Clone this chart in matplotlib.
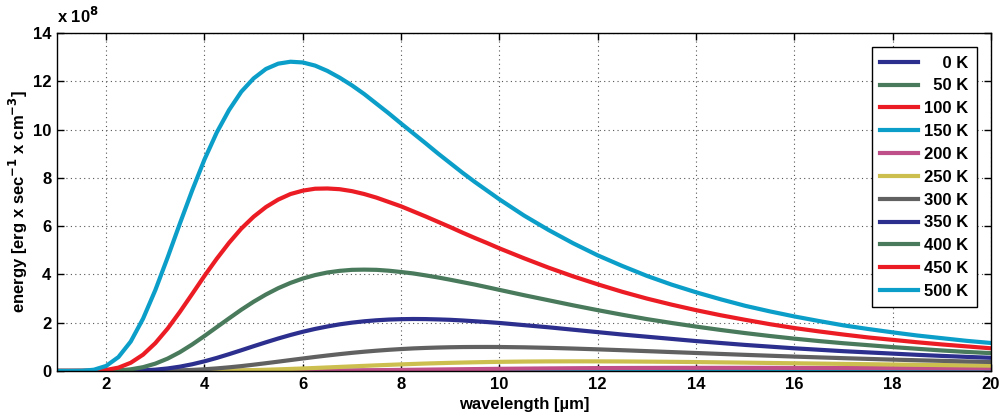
import matplotlib
matplotlib.use("Agg")
import matplotlib.pyplot as plt

# wavelength in um (finer steps up to 10 um), energy in units of 1e8 erg/s/cm^3
wavelength = [1, 1.25, 1.5, 1.75, 2, 2.25, 2.5, 2.75, 3, 3.25, 3.5, 3.75, 4, 4.25, 4.5,
              4.75, 5, 5.25, 5.5, 5.75, 6, 6.25, 6.5, 6.75, 7, 7.25, 7.5, 7.75, 8, 8.25,
              8.5, 8.75, 9, 9.25, 9.5, 9.75, 10,
              10.5, 11, 11.5, 12, 12.5, 13, 13.5, 14, 14.5, 15, 15.5, 16, 16.5, 17, 17.5,
              18, 18.5, 19, 19.5, 20]

# labels padded so they come out right-aligned like the original legend
labels = ['    0 K', '  50 K', '100 K', '150 K', '200 K', '250 K', '300 K',
          '350 K', '400 K', '450 K', '500 K']

e_0K = [0.0] * 57
e_50K = [0.0] * 57
e_100K = [0] * 44 + [0.0008, 0.0009, 0.0011, 0.0013, 0.0014, 0.0016, 0.0018, 0.0019,
                     0.0021, 0.0023, 0.0025, 0.0026, 0.0028]
e_150K = [0] * 21 + [0.0003, 0.0004, 0.0006, 0.0008, 0.0011, 0.0014, 0.0018, 0.0023,
                     0.0028, 0.0034, 0.0040, 0.0047, 0.0055, 0.0063, 0.0072, 0.0081,
                     0.0101, 0.0121, 0.0142, 0.0162, 0.0182, 0.0201, 0.0219, 0.0235,
                     0.0250, 0.0263, 0.0274, 0.0284, 0.0292, 0.0299, 0.0304, 0.0308,
                     0.0310, 0.0311, 0.0311, 0.031]
e_200K = [0] * 13 + [0.0004, 0.0007, 0.0013, 0.0022, 0.0033, 0.0049, 0.0070, 0.0095,
                     0.0125, 0.016, 0.020, 0.0244, 0.0292, 0.0343, 0.0397, 0.0453, 0.0510,
                     0.0568, 0.0625, 0.0683, 0.0739, 0.0793, 0.0846, 0.0897,
                     0.099, 0.107, 0.114, 0.120, 0.124, 0.127, 0.130, 0.131, 0.131, 0.131,
                     0.130, 0.128, 0.126, 0.124, 0.121, 0.118, 0.115, 0.112, 0.108, 0.105]
e_250K = [0] * 9 + [0.0007, 0.002, 0.0035, 0.007, 0.0113, 0.018, 0.027, 0.038, 0.0518,
                    0.068, 0.0854, 0.105, 0.1254, 0.147, 0.169, 0.191, 0.2126, 0.234,
                    0.254, 0.274, 0.292, 0.309, 0.324, 0.338, 0.350, 0.361, 0.371, 0.379,
                    0.391, 0.398, 0.400, 0.399, 0.395, 0.388, 0.380, 0.370, 0.358, 0.346,
                    0.333, 0.320, 0.307, 0.294, 0.282, 0.269, 0.257, 0.245, 0.233, 0.222]
e_300K = [0, 0, 0, 0, 0, 0, 0, 0.002, 0.006, 0.0128, 0.025, 0.0449, 0.072, 0.108, 0.152,
          0.203, 0.261, 0.323, 0.387, 0.453, 0.518, 0.582, 0.642, 0.699, 0.752, 0.799,
          0.841, 0.878, 0.909, 0.936, 0.956, 0.972, 0.984, 0.992, 0.995, 0.996, 0.994,
          0.981, 0.959, 0.930, 0.897, 0.861, 0.823, 0.784, 0.746, 0.707, 0.669, 0.633,
          0.597, 0.564, 0.532, 0.501, 0.472, 0.445, 0.420, 0.395, 0.373]
e_350K = [0, 0, 0, 0, 0, 0.0024, 0.009, 0.0245, 0.055, 0.1055, 0.180, 0.279, 0.401, 0.542,
          0.697, 0.860, 1.027, 1.189, 1.346, 1.492, 1.625, 1.743, 1.844, 1.933, 2.003,
          2.059, 2.101, 2.131, 2.147, 2.154, 2.150, 2.137, 2.12, 2.093, 2.06, 2.027, 1.99,
          1.90, 1.81, 1.71, 1.61, 1.51, 1.42, 1.33, 1.24, 1.16, 1.08, 1.01, 0.94, 0.88,
          0.82, 0.77, 0.72, 0.67, 0.625, 0.585, 0.547]
e_400K = [0, 0, 0, 0.0009, 0.006, 0.0236, 0.069, 0.158, 0.305, 0.513, 0.78, 1.099, 1.45,
          1.816, 2.18, 2.539, 2.87, 3.168, 3.43, 3.649, 3.83, 3.973, 4.08, 4.148, 4.19,
          4.199, 4.19, 4.154, 4.10, 4.040, 3.96, 3.875, 3.78, 3.680, 3.58, 3.471, 3.36,
          3.14, 2.93, 2.72, 2.52, 2.33, 2.15, 1.99, 1.84, 1.70, 1.57, 1.45, 1.34, 1.24,
          1.15, 1.07, 0.99, 0.92, 0.85, 0.79, 0.74]
e_450K = [0, 0, 0.001, 0.0085, 0.042, 0.139, 0.341, 0.676, 1.154, 1.755, 2.45, 3.19, 3.94,
          4.65, 5.31, 5.90, 6.39, 6.79, 7.10, 7.33, 7.47, 7.55, 7.56, 7.53, 7.45, 7.33,
          7.18, 7.00, 6.82, 6.61, 6.40, 6.18, 5.96, 5.73, 5.51, 5.30, 5.08,
          4.67, 4.28, 3.92, 3.59, 3.28, 3.00, 2.75, 2.52, 2.31, 2.12, 1.94, 1.78, 1.64,
          1.51, 1.39, 1.29, 1.19, 1.10, 1.02, 0.94]
e_500K = [0, 0.0004, 0.007, 0.0525, 0.21, 0.577, 1.22, 2.165, 3.35, 4.70, 6.11, 7.48, 8.76,
          9.88, 10.81, 11.57, 12.12, 12.51, 12.73, 12.81, 12.78, 12.65, 12.43, 12.15,
          11.83, 11.47, 11.07, 10.67, 10.25, 9.84, 9.43, 9.01, 8.61, 8.21, 7.83, 7.47,
          7.11, 6.44, 5.84, 5.29, 4.79, 4.35, 3.94, 3.58, 3.26, 2.97, 2.70, 2.47, 2.26,
          2.07, 1.89, 1.74, 1.60, 1.47, 1.36, 1.25, 1.16]

series = [e_0K, e_50K, e_100K, e_150K, e_200K, e_250K, e_300K,
          e_350K, e_400K, e_450K, e_500K]

colors = ['#2c2f8e', '#487a5b', '#ec1c24', '#0b9ec8', '#bf4f88', '#cdbf4f', '#616161']

plt.rcParams['font.family'] = ['Liberation Sans', 'DejaVu Sans']
plt.rcParams['font.weight'] = 'bold'
fs = 12

fig = plt.figure(figsize=(9.99, 4.17), dpi=100)
ax = fig.add_axes([57 / 999, 1 - 371 / 417, 934 / 999, 338 / 417])

for i, (lab, e) in enumerate(zip(labels, series)):
    ax.plot(wavelength, e, color=colors[i % len(colors)], lw=3, label=lab,
            solid_joinstyle='round')

ax.set_xlim(1, 20)
ax.set_ylim(0, 14)
ax.set_xticks(range(2, 21, 2))
ax.set_yticks(range(0, 15, 2))
ax.tick_params(direction='in', top=True, right=True, length=5, width=1,
               labelsize=fs, pad=4)
for s in ax.spines.values():
    s.set_linewidth(1)
ax.grid(True, linestyle=(0, (1, 3)), color='#555555', linewidth=0.8)

ax.set_xlabel('wavelength [µm]', fontsize=fs, fontweight='bold', labelpad=4)
ax.set_ylabel('energy [erg x sec$^{\\mathbf{-1}}$ x cm$^{\\mathbf{-3}}$]',
              fontsize=fs, fontweight='bold', labelpad=2)
ax.text(0, 1.02, 'x 10$^{\\mathbf{8}}$', transform=ax.transAxes, fontsize=fs,
        fontweight='bold', ha='left', va='bottom')

leg = ax.legend(loc='upper right', fontsize=fs, frameon=True, fancybox=False,
                edgecolor='black', framealpha=1, handlelength=2.3,
                handletextpad=0.35, labelspacing=0.47, borderaxespad=0.85,
                borderpad=0.5)
leg.get_frame().set_linewidth(1)
for h in leg.get_lines():
    h.set_linewidth(3)

fig.savefig('out.png', dpi=100)
